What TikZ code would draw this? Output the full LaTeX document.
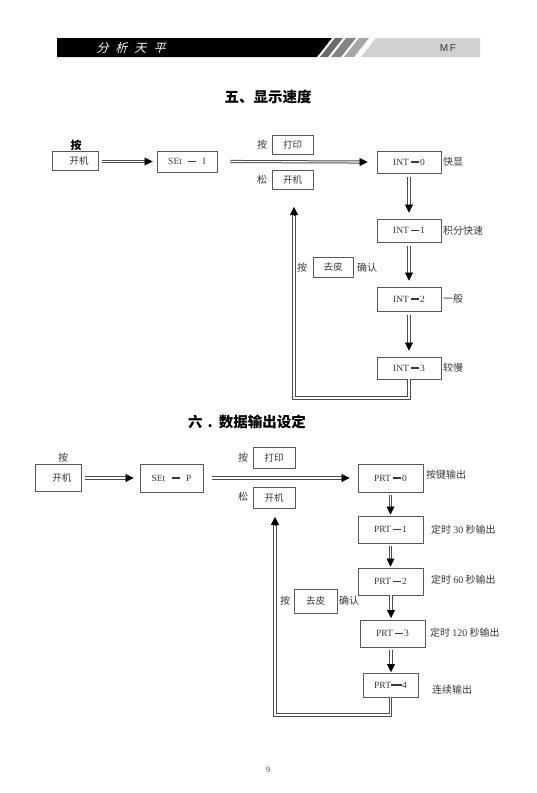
\documentclass[tikz,border=0pt]{standalone}
\usepackage{fontspec}
\setmainfont{Liberation Serif}
\newfontfamily\cjk{Noto Sans CJK SC}
\newfontfamily\cjkslant[FakeSlant=0.25]{Noto Sans CJK SC}
\newfontfamily\hsans{Liberation Sans}
\usetikzlibrary{arrows.meta}
\newcommand{\mydash}{\,\rule[2.6pt]{8pt}{1.1pt}\,}
\definecolor{txt}{gray}{0.22}
\definecolor{boxc}{gray}{0.35}
\definecolor{linec}{gray}{0.3}
\definecolor{stA}{gray}{0.42}
\definecolor{stB}{gray}{0.52}
\definecolor{stC}{gray}{0.65}
\definecolor{barc}{gray}{0.82}
\tikzset{
  box/.style={draw=boxc, line width=0.8pt, inner sep=0pt, text=txt, font=\fontsize{9.5}{11}\selectfont},
  lbl/.style={inner sep=0pt, text=txt, font=\cjk\fontsize{10}{11}\selectfont},
  rlbl/.style={lbl, anchor=west},
  dbl/.style={draw=linec, line width=1pt, double=white, double distance=1.1pt},
  head/.style={-{Triangle[length=8pt,width=8pt]}, draw=black, fill=black, line width=0.4pt},
  ttl/.style={inner sep=0pt, text=black, font=\cjk\bfseries\fontsize{14.5}{15}\selectfont}
}
\begin{document}
\begin{tikzpicture}[x=1pt,y=-1pt]
\useasboundingbox (0,0) rectangle (536,793);
% header
\fill[black] (57,38) -- (332,38) -- (317,57) -- (57,57) -- cycle;
\fill[stA] (335,38) -- (343,38) -- (328,57) -- (320,57) -- cycle;
\fill[stB] (346,38) -- (356,38) -- (341,57) -- (331,57) -- cycle;
\fill[stC] (359,38) -- (369,38) -- (354,57) -- (344,57) -- cycle;
\fill[barc] (376,38) -- (480,38) -- (480,57) -- (361,57) -- cycle;
\node[inner sep=0pt, text=white, font=\cjkslant\fontsize{12}{12}\selectfont] (hd) at (131,48) {分\hspace{7pt}析\hspace{7pt}天\hspace{7pt}平};
\node[inner sep=0pt, text=txt, font=\hsans\fontsize{10}{10}\selectfont] (mf) at (448,48) {M\,F};
% section 5
\node[ttl] (t5) at (268,97) {五、显示速度};
\node[inner sep=0pt, text=black, font=\cjk\bfseries\fontsize{11}{11}\selectfont] (an1) at (76,145) {按};
\node[box, minimum width=46pt, minimum height=19pt] (k1) at (75,160.5) {\hspace{8pt}\cjk 开机};
\node[box, minimum width=60pt, minimum height=21pt] (s1) at (187,161.5) {SEt\ \ \mydash\ \ I};
\node[lbl] (an2) at (262,145) {按};
\node[box, minimum width=41pt, minimum height=19pt] (p1) at (292.5,144.5) {\cjk 打印};
\node[lbl] (so1) at (262,180) {松};
\node[box, minimum width=41pt, minimum height=19pt] (k2) at (292.5,179.5) {\cjk 开机};
\node[box, minimum width=64pt, minimum height=22pt] (i0) at (409,162) {INT\mydash0};
\node[box, minimum width=64pt, minimum height=23pt] (i1) at (409,230.5) {INT\mydash1};
\node[box, minimum width=64pt, minimum height=24pt] (i2) at (409,299) {INT\mydash2};
\node[box, minimum width=64pt, minimum height=22pt] (i3) at (409,368) {INT\mydash3};
\node[rlbl] (l0) at (443,162) {快显};
\node[rlbl] (l1) at (443,230.5) {积分快速};
\node[rlbl] (l2) at (443,299) {一般};
\node[rlbl] (l3) at (443,368) {较慢};
\node[lbl] (an3) at (302,268) {按};
\node[box, minimum width=40pt, minimum height=20pt] (q1) at (333,267) {\cjk 去皮};
\node[rlbl] (c1) at (357,268) {确认};
\draw[dbl] (s1.west -| k1.east) ++(4pt,0) -- ([xshift=-10pt]s1.west);
\draw[head] ([xshift=-12pt]s1.west) -- ([xshift=-4pt]s1.west);
\draw[dbl] ([xshift=13pt]s1.east) -- ([xshift=-15pt]i0.west);
\draw[head] ([xshift=-17pt]i0.west) -- ([xshift=-9pt]i0.west);
\draw[dbl] ([yshift=-4pt]i0.south) -- ([yshift=12pt]i1.north);
\draw[head] ([yshift=14pt]i1.north) -- ([yshift=6pt]i1.north);
\draw[dbl] ([yshift=-4pt]i1.south) -- ([yshift=12pt]i2.north);
\draw[head] ([yshift=14pt]i2.north) -- ([yshift=6pt]i2.north);
\draw[dbl] ([yshift=-4pt]i2.south) -- ([yshift=12pt]i3.north);
\draw[head] ([yshift=14pt]i3.north) -- ([yshift=6pt]i3.north);
\coordinate (c5b) at (294,398);
\coordinate (c5t) at (294,207);
\draw[dbl] (i3.south) |- (c5b) -- ([yshift=-6pt]c5t);
\draw[head] ([yshift=-8pt]c5t) -- (c5t);
% section 6
\node[ttl] (t6) at (247,422) {六\hspace{5pt}.\hspace{6pt}数据输出设定};
\node[lbl] (an4) at (63,458) {按};
\node[box, minimum width=46pt, minimum height=27pt] (k3) at (58,477.5) {\hspace{8pt}\cjk 开机};
\node[box, minimum width=63pt, minimum height=28pt] (s2) at (171.5,478) {SEt\ \ \mydash\ \ P};
\node[lbl] (an5) at (243,458) {按};
\node[box, minimum width=42pt, minimum height=21pt] (p2) at (274,457.5) {\cjk 打印};
\node[lbl] (so2) at (243,497) {松};
\node[box, minimum width=42pt, minimum height=21pt] (k4) at (274,497.5) {\cjk 开机};
\node[box, minimum width=65pt, minimum height=28pt] (r0) at (390.5,478) {PRT\mydash0};
\node[box, minimum width=65pt, minimum height=27pt] (r1) at (390.5,529.5) {PRT\mydash1};
\node[box, minimum width=65pt, minimum height=27pt] (r2) at (390.5,581.5) {PRT\mydash2};
\node[box, minimum width=65pt, minimum height=27pt] (r3) at (392.5,633.5) {PRT\mydash3};
\node[box, minimum width=55pt, minimum height=24pt] (r4) at (390.5,685) {PRT\rule[2.6pt]{11pt}{1.1pt}4};
\node[rlbl] (m0) at (426,475) {按键输出};
\node[rlbl] (m1) at (431,530) {定时 {\rmfamily 30} 秒输出};
\node[rlbl] (m2) at (431,580) {定时 {\rmfamily 60} 秒输出};
\node[rlbl] (m3) at (430,633) {定时 {\rmfamily 120} 秒输出};
\node[rlbl] (m4) at (432,690) {连续输出};
\node[lbl] (an6) at (285,601) {按};
\node[box, minimum width=43pt, minimum height=24pt] (q2) at (315.5,601) {\cjk 去皮};
\node[rlbl] (c2) at (339,601) {确认};
\draw[dbl] (s2.west -| k3.east) ++(4pt,0) -- ([xshift=-10pt]s2.west);
\draw[head] ([xshift=-14pt]s2.west) -- ([xshift=-6pt]s2.west);
\draw[dbl] ([xshift=9pt]s2.east) -- ([xshift=-12pt]r0.west);
\draw[head] ([xshift=-16pt]r0.west) -- ([xshift=-8pt]r0.west);
\draw[dbl] ([yshift=-3pt]r0.south) -- ([yshift=7pt]r1.north);
\draw[head] ([yshift=9pt]r1.north) -- ([yshift=1pt]r1.north);
\draw[dbl] ([yshift=-3pt]r1.south) -- ([yshift=7pt]r2.north);
\draw[head] ([yshift=9pt]r2.north) -- ([yshift=1pt]r2.north);
\coordinate (c6s) at (391,595);
\coordinate (c6a) at (391,618);
\draw[dbl] (c6s) -- ([yshift=6pt]c6a);
\draw[head] ([yshift=8pt]c6a) -- (c6a);
\coordinate (c6c) at (391,647);
\coordinate (c6d) at (391,672);
\draw[dbl] ([yshift=-3pt]c6c) -- ([yshift=6pt]c6d);
\draw[head] ([yshift=8pt]c6d) -- (c6d);
\coordinate (c6b) at (275,715);
\coordinate (c6t) at (275,517);
\draw[dbl] (r4.south) |- (c6b) -- ([yshift=-6pt]c6t);
\draw[head] ([yshift=-8pt]c6t) -- (c6t);
% page number
\node[inner sep=0pt, text=txt, font=\fontsize{8}{8}\selectfont] (pg) at (268,770) {9};
\end{tikzpicture}
\end{document}
